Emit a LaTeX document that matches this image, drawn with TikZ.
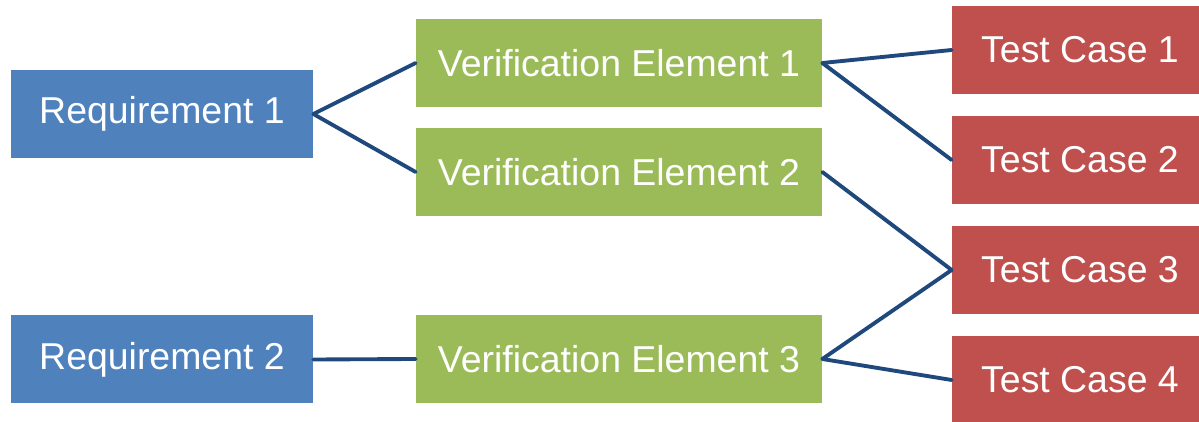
\documentclass[tikz,border=0pt]{standalone}
\usepackage{fontspec}
\setmainfont{Liberation Sans}
\usepackage{tikz}

\definecolor{reqblue}{HTML}{4F81BD}
\definecolor{vegreen}{HTML}{9BBB59}
\definecolor{tcred}{HTML}{C0504D}
\definecolor{linkblue}{HTML}{1F497D}

\tikzset{
  box/.style={draw=none, inner sep=0pt, minimum height=1.76cm, text=white,
    font=\fontsize{21.3}{25}\selectfont},
  reqbox/.style={box, fill=reqblue, minimum width=6.04cm},
  vebox/.style={box, fill=vegreen, minimum width=8.12cm},
  tcbox/.style={box, fill=tcred, minimum width=5.12cm},
  link/.style={draw=linkblue, line width=2.2pt, line cap=round}
}

\begin{document}
\begin{tikzpicture}
  % Frame of the page (test case boxes run off the right and bottom edge)
  \clip (0,0) rectangle (23.98,-8.44);

  % Requirements
  \node[reqbox] (req1) at (3.24,-2.28) {Requirement 1};
  \node[reqbox] (req2) at (3.24,-7.19) {Requirement 2};

  % Verification elements
  \node[vebox] (ve1) at (12.38,-1.26) {Verification Element 1};
  \node[vebox] (ve2) at (12.38,-3.44) {Verification Element 2};
  \node[vebox] (ve3) at (12.38,-7.18) {Verification Element 3};

  % Test cases
  \node[tcbox] (tc1) at (21.6,-1.0) {Test Case 1};
  \node[tcbox] (tc2) at (21.6,-3.2) {Test Case 2};
  \node[tcbox] (tc3) at (21.6,-5.4) {Test Case 3};
  \node[tcbox] (tc4) at (21.6,-7.6) {Test Case 4};

  % Links between them
  \draw[link] (req1.east) -- (ve1.west);
  \draw[link] (req1.east) -- (ve2.west);
  \draw[link] (req2.east) -- (ve3.west);
  \draw[link] (ve1.east) -- (tc1.west);
  \draw[link] (ve1.east) -- (tc2.west);
  \draw[link] (ve2.east) -- (tc3.west);
  \draw[link] (ve3.east) -- (tc3.west);
  \draw[link] (ve3.east) -- (tc4.west);
\end{tikzpicture}
\end{document}
